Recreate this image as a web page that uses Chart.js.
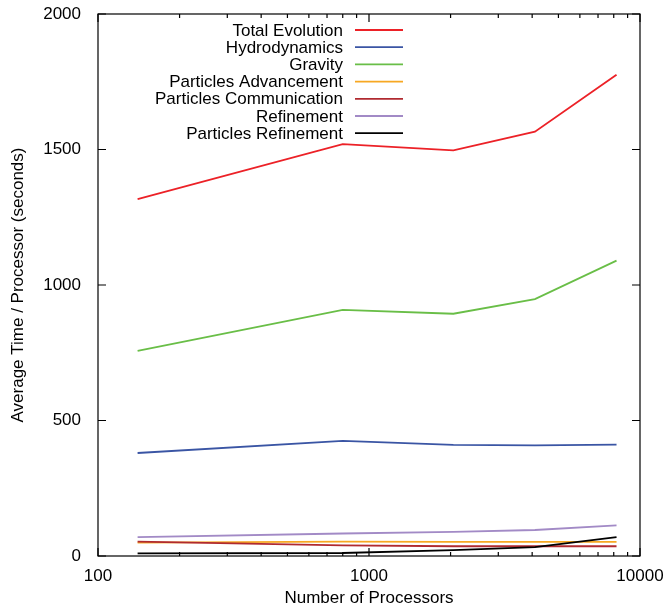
<!DOCTYPE html>
<html>
<head>
<meta charset="utf-8">
<script src="https://cdn.jsdelivr.net/npm/chart.js@4.4.1/dist/chart.umd.min.js"></script>
<style>
  body { margin: 0; background: #fff; }
  #wrap { width: 668px; height: 610px; }
</style>
</head>
<body>
<div id="wrap"><canvas id="chart" width="668" height="610"></canvas></div>
<script>
const processors = [140, 800, 2048, 4096, 8192];
const totalEvolution = [1317, 1520, 1497, 1566, 1776];
const hydrodynamics = [380, 425, 410, 408, 411];
const gravity = [757, 908, 894, 948, 1090];
const particlesAdvancement = [49, 53, 52, 52, 52];
const particlesCommunication = [53, 39, 36, 36, 36];
const refinement = [70, 83, 89, 96, 113];
const particlesRefinement = [10, 11, 22, 33, 70];

const seriesNames = ['Total Evolution', 'Hydrodynamics', 'Gravity', 'Particles Advancement',
  'Particles Communication', 'Refinement', 'Particles Refinement'];
const seriesColors = ['#ec2127', '#3a55a4', '#69be47', '#f7a823', '#b02a30', '#a28ac6', '#000000'];
const xTickLabels = [100, 1000, 10000];
const yTickLabels = [0, 500, 1000, 1500, 2000];

const FONT = '"Liberation Sans", Arial, Helvetica, sans-serif';

const allSeries = [totalEvolution, hydrodynamics, gravity, particlesAdvancement,
  particlesCommunication, refinement, particlesRefinement];

const datasets = allSeries.map((vals, i) => ({
  label: seriesNames[i],
  data: processors.map((p, j) => ({ x: p, y: vals[j] })),
  borderColor: seriesColors[i],
  backgroundColor: seriesColors[i],
  borderWidth: 1.8,
  pointRadius: 0,
  tension: 0,
  fill: false,
  order: -i
}));

function noOverflow(s) {
  s.paddingTop = 0; s.paddingBottom = 0; s.paddingLeft = 0; s.paddingRight = 0;
}

// gnuplot-like frame, inward ticks and key
const framePlugin = {
  id: 'frame',
  afterDraw(chart) {
    const { ctx, chartArea: a, scales } = chart;
    ctx.save();
    ctx.strokeStyle = '#000';
    ctx.lineWidth = 1.2;
    ctx.strokeRect(a.left, a.top, a.right - a.left, a.bottom - a.top);

    // y ticks both sides
    yTickLabels.forEach(v => {
      const y = scales.y.getPixelForValue(v);
      ctx.beginPath();
      ctx.moveTo(a.left, y); ctx.lineTo(a.left + 8, y);
      ctx.moveTo(a.right, y); ctx.lineTo(a.right - 8, y);
      ctx.stroke();
    });

    // x log ticks top & bottom
    for (let dec = 100; dec <= 10000; dec *= 10) {
      for (let k = 1; k <= 9; k++) {
        const v = dec * k;
        if (v > 10000) break;
        const x = scales.x.getPixelForValue(v);
        const len = k === 1 ? 8 : 4;
        ctx.beginPath();
        ctx.moveTo(x, a.bottom); ctx.lineTo(x, a.bottom - len);
        ctx.moveTo(x, a.top); ctx.lineTo(x, a.top + len);
        ctx.stroke();
      }
    }

    // key
    ctx.font = '17px ' + FONT;
    ctx.textAlign = 'right';
    ctx.textBaseline = 'middle';
    chart.data.datasets.forEach((ds, i) => {
      const y = 30 + i * 17.2;
      ctx.fillStyle = '#000';
      ctx.fillText(ds.label, 343, y + 1);
      ctx.strokeStyle = ds.borderColor;
      ctx.lineWidth = 1.8;
      ctx.beginPath();
      ctx.moveTo(355, y); ctx.lineTo(403, y);
      ctx.stroke();
    });
    ctx.restore();
  }
};

new Chart(document.getElementById('chart'), {
  type: 'line',
  data: { datasets },
  options: {
    responsive: false,
    animation: false,
    layout: { padding: { left: 0, right: 28, top: 14, bottom: 0 } },
    plugins: { legend: { display: false }, tooltip: { enabled: false } },
    scales: {
      x: {
        type: 'logarithmic',
        min: 100,
        max: 10000,
        afterBuildTicks: s => { s.ticks = xTickLabels.map(v => ({ value: v, major: true })); },
        afterFit: s => { s.height = 54; noOverflow(s); },
        grid: { display: false, drawTicks: false },
        border: { display: false },
        ticks: {
          color: '#000',
          font: { family: FONT, size: 17 },
          padding: 10,
          maxRotation: 0,
          autoSkip: false,
          callback: v => String(v)
        },
        title: {
          display: true,
          text: 'Number of Processors',
          color: '#000',
          font: { family: FONT, size: 17 },
          padding: { top: 0, bottom: 1 }
        }
      },
      y: {
        type: 'linear',
        min: 0,
        max: 2000,
        afterBuildTicks: s => { s.ticks = yTickLabels.map(v => ({ value: v })); },
        afterFit: s => { s.width = 98; noOverflow(s); },
        grid: { display: false, drawTicks: false },
        border: { display: false },
        ticks: {
          color: '#000',
          font: { family: FONT, size: 17 },
          padding: 17,
          callback: v => String(v)
        },
        title: {
          display: true,
          text: 'Average Time / Processor (seconds)',
          color: '#000',
          font: { family: FONT, size: 17 },
          padding: { top: 8, bottom: 0 }
        }
      }
    }
  },
  plugins: [framePlugin]
});
</script>
</body>
</html>
